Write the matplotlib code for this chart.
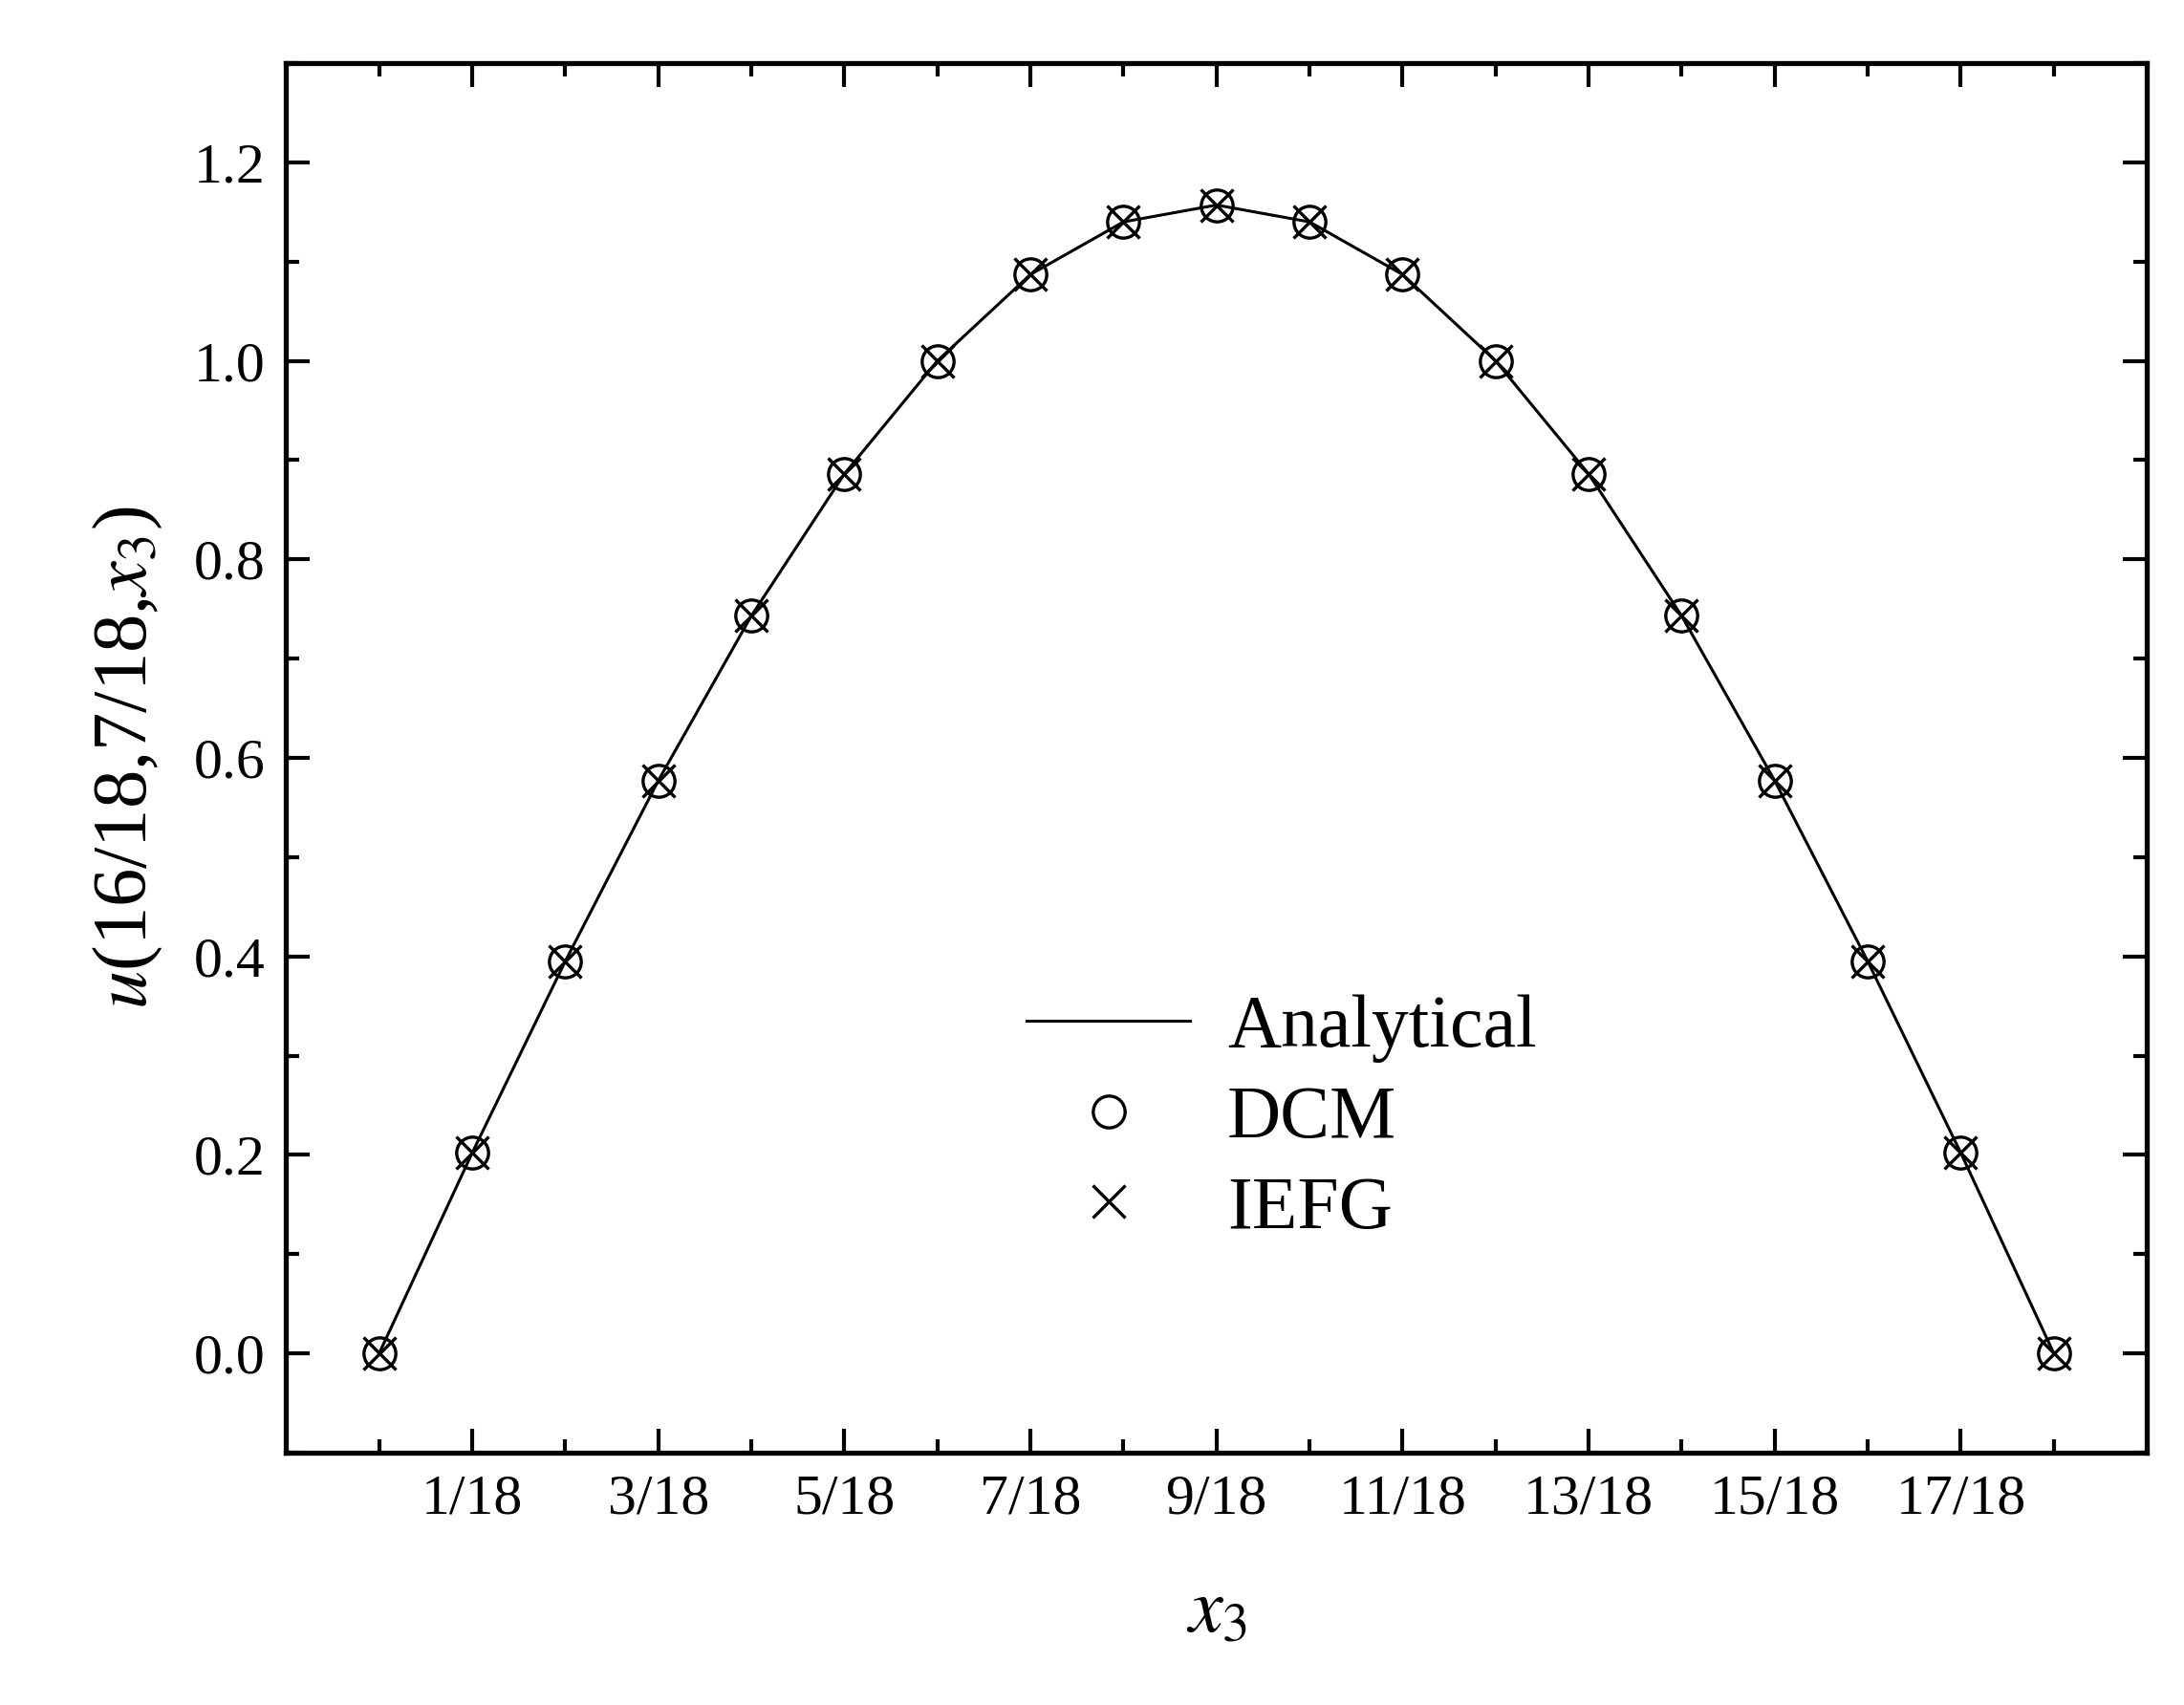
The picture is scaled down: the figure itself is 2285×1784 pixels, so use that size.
import matplotlib
matplotlib.use('Agg')
import matplotlib.pyplot as plt
import numpy as np

plt.rcParams['font.family'] = 'Liberation Serif'
plt.rcParams['mathtext.fontset'] = 'stix'

x_num = list(range(19))  # x3 = n/18
u_vals = [0.0, 0.202, 0.395, 0.577, 0.743, 0.886, 1.0, 1.087, 1.140, 1.157,
          1.140, 1.087, 1.0, 0.886, 0.743, 0.577, 0.395, 0.202, 0.0]
tick_labels = ['1/18', '3/18', '5/18', '7/18', '9/18', '11/18', '13/18', '15/18', '17/18']

x = np.array(x_num) / 18.0
u = np.array(u_vals)

fig = plt.figure(figsize=(22.85, 17.84), dpi=100)
ax = fig.add_axes([0.131, 0.148, 0.852, 0.815])

ax.plot(x, u, 'k-', lw=2.2, label='Analytical')
ax.plot(x, u, 'o', ms=24, mfc='none', mec='k', mew=2.4, label='DCM')
ax.plot(x, u, 'x', ms=24, mec='k', mew=2.4, label='IEFG')

ax.set_xlim(-1/18, 19/18)
ax.set_ylim(-0.1, 1.3)
ax.set_xticks(np.arange(1, 18, 2) / 18)
ax.set_xticklabels(tick_labels)
ax.set_xticks(np.arange(0, 19, 2) / 18, minor=True)
ax.set_yticks(np.arange(0, 1.21, 0.2))
ax.set_yticklabels(['%.1f' % v for v in np.arange(0, 1.21, 0.2)])
ax.set_yticks(np.arange(-0.1, 1.31, 0.1), minor=True)

ax.tick_params(which='both', direction='in', top=True, right=True, width=3, labelsize=43, pad=16)
ax.tick_params(which='major', length=18)
ax.tick_params(which='minor', length=10)
for s in ax.spines.values():
    s.set_linewidth(3.8)

ax.set_xlabel('$x_3$', fontsize=58, labelpad=40)
ax.set_ylabel('$u$(16/18,7/18,$x_3$)', fontsize=58, labelpad=22)

ax.legend(loc='center', bbox_to_anchor=(0.535, 0.24), frameon=False, fontsize=56,
          handlelength=2.2, handletextpad=0.5, labelspacing=0.3)

fig.savefig('out.png', dpi=100)
